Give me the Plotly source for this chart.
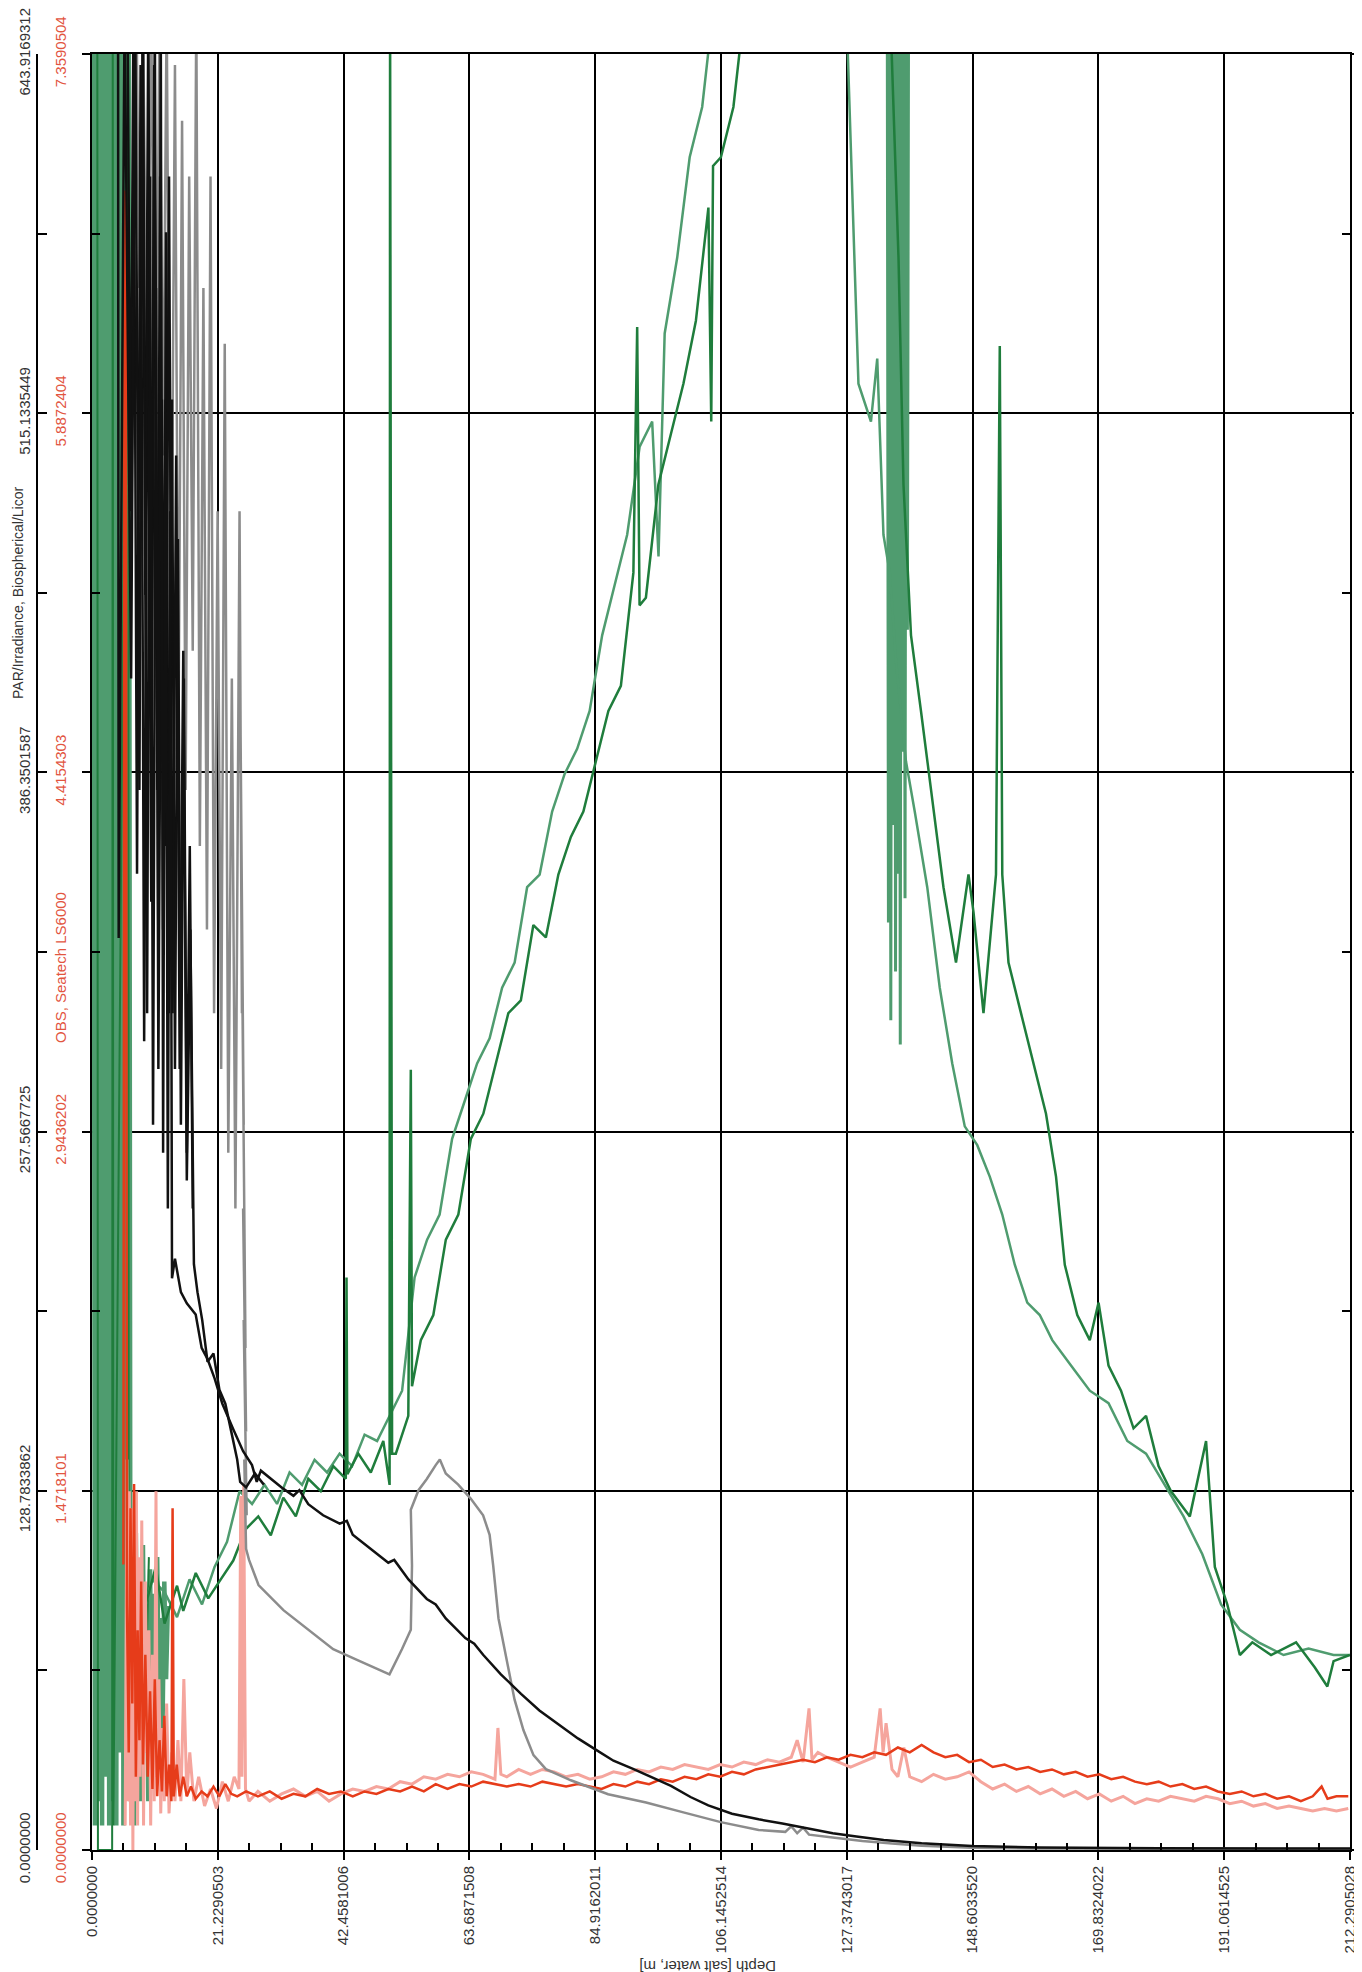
import plotly.graph_objects as go

# ---------------- axis ticks ----------------
depth_ticks = [0.0, 21.2290503, 42.4581006, 63.6871508, 84.9162011, 106.1452514,
               127.3743017, 148.6033520, 169.8324022, 191.0614525, 212.2905028]
depth_labels = ["0.0000000", "21.2290503", "42.4581006", "63.6871508", "84.9162011",
                "106.1452514", "127.3743017", "148.6033520", "169.8324022",
                "191.0614525", "212.2905028"]
par_ticks = [0.0, 128.7833862, 257.5667725, 386.3501587, 515.1335449, 643.9169312]
par_labels = ["0.0000000", "128.7833862", "257.5667725", "386.3501587", "515.1335449", "643.9169312"]
obs_ticks = [0.0, 1.4718101, 2.9436202, 4.4154303, 5.8872404, 7.3590504]
obs_labels = ["0.0000000", "1.4718101", "2.9436202", "4.4154303", "5.8872404", "7.3590504"]

# ---------------- data (depth m, value) ----------------
# Fluorescence-like green casts (hidden axis, same span as OBS)
green_surface = [(0.2, 7.6), (0.5, 0.1), (0.8, 7.6), (1.1, 0.2), (1.4, 7.6), (1.7, 0.1), (2.0, 7.6),
                 (2.3, 0.3), (2.6, 7.6), (2.9, 0.1), (3.2, 7.6), (3.5, 0.2), (3.8, 7.6), (4.1, 0.1),
                 (4.4, 7.6), (4.7, 0.4), (5.0, 7.6), (5.3, 0.1), (5.6, 7.6), (5.9, 0.6), (6.2, 7.6),
                 (6.5, 0.2), (6.8, 1.2), (7.1, 0.1), (7.4, 1.3), (7.7, 0.3), (8.0, 1.1), (8.3, 0.2),
                 (8.6, 1.25), (8.9, 0.4), (9.2, 1.0), (9.5, 0.2), (9.8, 1.15), (10.1, 0.5), (10.4, 1.05),
                 (10.7, 0.3), (11.0, 1.2), (11.3, 0.6), (11.6, 0.95), (11.9, 0.5), (12.2, 1.1),
                 (12.5, 0.7), (12.8, 1.0)]
green_surface_dark = [(0.9, 7.6), (1.0, 0.0), (3.4, 0.0), (3.5, 7.6), (3.6, 0.1), (6.1, 7.6),
                      (6.2, 0.9), (7.0, 1.2), (7.6, 0.2), (8.3, 1.1), (9.0, 0.6), (9.6, 1.2)]
green_dark_up = [(6.96, 1.109), (9.07, 1.006), (10.76, 1.160), (12.24, 0.928), (14.35, 1.083),
                 (15.40, 0.980), (17.51, 1.135), (19.62, 1.031), (21.73, 1.109), (23.84, 1.186),
                 (25.95, 1.315), (28.06, 1.367), (30.17, 1.289), (32.28, 1.444), (34.39, 1.367),
                 (36.50, 1.521), (38.61, 1.470), (40.72, 1.573), (42.83, 1.521), (42.95, 2.346),
                 (43.10, 1.540), (44.94, 1.624), (47.05, 1.547), (49.16, 1.676), (50.22, 1.496),
                 (50.30, 7.6), (50.64, 1.624), (51.27, 1.624), (53.38, 1.779), (53.80, 3.197),
                 (54.00, 1.900), (55.49, 2.089), (57.60, 2.192), (59.71, 2.501), (61.82, 2.604),
                 (63.93, 2.914), (66.04, 3.017), (68.15, 3.223), (70.26, 3.429), (72.37, 3.481),
                 (74.48, 3.790), (76.59, 3.739), (78.70, 3.997), (80.81, 4.151), (82.92, 4.255),
                 (85.03, 4.461), (87.14, 4.667), (89.25, 4.770), (91.36, 5.234), (92.00, 6.240),
                 (92.40, 5.100), (93.47, 5.131), (95.58, 5.595), (97.69, 5.802), (99.80, 6.008),
                 (101.91, 6.266), (104.02, 6.730), (104.50, 5.853), (104.80, 6.900), (106.13, 6.936),
                 (108.24, 7.142), (110.35, 7.6)]
green_mid_up = [(5.91, 1.057), (8.02, 0.902), (10.13, 1.109), (12.24, 1.057), (14.35, 0.954),
                (16.46, 1.109), (18.57, 1.006), (20.68, 1.160), (22.79, 1.263), (24.90, 1.470),
                (27.01, 1.418), (29.12, 1.496), (31.23, 1.418), (33.34, 1.547), (35.45, 1.496),
                (37.56, 1.599), (39.67, 1.547), (41.78, 1.624), (43.89, 1.573), (46.00, 1.702),
                (48.11, 1.676), (50.22, 1.779), (52.33, 1.882), (54.44, 2.346), (56.55, 2.501),
                (58.66, 2.604), (60.77, 2.914), (62.88, 3.068), (64.99, 3.223), (67.10, 3.326),
                (69.21, 3.533), (71.32, 3.636), (73.43, 3.945), (75.54, 3.997), (77.65, 4.255),
                (79.76, 4.409), (81.87, 4.512), (83.98, 4.667), (86.09, 4.977), (88.20, 5.183),
                (90.31, 5.389), (92.42, 5.750), (94.53, 5.853), (95.60, 5.300), (96.64, 6.214),
                (98.75, 6.524), (100.86, 6.936), (102.97, 7.142), (105.08, 7.6)]
green_mid_down = [(127.23, 7.6), (128.29, 6.781), (129.34, 6.008), (131.45, 5.853), (132.51, 6.111),
                  (133.56, 5.389), (134.62, 5.234), (135.67, 4.873), (137.36, 4.461), (138.84, 4.255),
                  (140.95, 3.945), (143.06, 3.533), (145.17, 3.223), (147.28, 2.965), (149.39, 2.888),
                  (151.50, 2.759), (153.61, 2.604), (155.72, 2.398), (157.83, 2.243), (159.94, 2.192),
                  (162.05, 2.089), (165.21, 1.985), (168.38, 1.882), (171.54, 1.831), (174.71, 1.676),
                  (177.87, 1.624), (181.04, 1.496), (184.20, 1.367), (187.37, 1.212), (190.53, 1.006),
                  (193.70, 0.902), (196.86, 0.851), (201.08, 0.799), (205.30, 0.825), (209.52, 0.799),
                  (212.27, 0.799)]
green_band = [(134.2, 7.6), (134.4, 3.8), (134.6, 7.6), (134.8, 3.4), (135.0, 7.6), (135.2, 4.2),
              (135.4, 7.6), (135.6, 3.6), (135.8, 7.6), (136.0, 4.0), (136.2, 7.6), (136.4, 3.3),
              (136.6, 7.6), (136.8, 4.5), (137.0, 7.6), (137.2, 3.9), (137.4, 7.6), (137.6, 5.0),
              (137.8, 7.6)]
green_dark_down = [(134.62, 7.6), (136.10, 6.524), (136.94, 5.595), (138.21, 4.977), (139.89, 4.667),
                   (142.00, 4.255), (143.69, 3.945), (145.80, 3.636), (147.91, 3.997), (148.76, 3.842),
                   (150.44, 3.429), (152.55, 3.997), (153.19, 6.163), (153.61, 3.997), (154.66, 3.636),
                   (156.77, 3.429), (158.88, 3.223), (160.99, 3.017), (162.68, 2.759), (164.16, 2.398),
                   (166.27, 2.192), (168.38, 2.089), (169.86, 2.243), (171.54, 1.985), (173.65, 1.882),
                   (175.76, 1.728), (177.87, 1.779), (179.98, 1.573), (182.09, 1.470), (185.26, 1.367),
                   (188.00, 1.676), (189.48, 1.160), (191.59, 1.006), (193.70, 0.799), (195.81, 0.851),
                   (198.97, 0.799), (203.19, 0.851), (206.36, 0.748), (208.47, 0.670), (209.52, 0.774),
                   (212.27, 0.799)]

# OBS, Seatech LS6000
obs_cast1 = [(5.3, 1.17), (5.5, 6.8), (5.7, 6.7), (5.9, 1.0), (6.2, 0.4), (6.5, 1.4), (6.8, 0.6),
             (7.1, 1.5), (7.4, 0.3), (7.7, 0.9), (8.0, 0.45), (8.3, 1.1), (8.6, 0.35), (9.0, 0.8),
             (9.4, 0.3), (9.8, 0.65), (10.2, 0.25), (10.6, 0.7), (11.0, 0.22), (11.4, 0.45),
             (11.8, 0.24), (12.2, 0.55), (12.6, 0.22), (13.0, 0.35), (13.4, 0.2), (13.6, 1.40),
             (13.8, 0.22), (14.3, 0.35), (14.8, 0.22), (15.4, 0.3), (16.0, 0.22), (16.7, 0.26),
             (17.5, 0.21), (18.5, 0.24), (19.5, 0.22), (20.5, 0.26), (21.5, 0.22), (22.5, 0.27),
             (23.5, 0.23), (24.5, 0.22), (26.0, 0.24), (28.0, 0.22), (30.0, 0.24), (32.0, 0.21),
             (34.0, 0.23), (36.0, 0.22), (38.0, 0.25), (40.0, 0.23), (42.0, 0.24), (44.0, 0.22),
             (46.0, 0.24), (48.0, 0.23), (50.0, 0.25), (52.0, 0.24), (54.0, 0.26), (56.0, 0.24),
             (58.0, 0.27), (60.0, 0.25), (62.0, 0.27), (64.0, 0.26), (66.0, 0.28), (68.0, 0.27),
             (70.0, 0.26), (72.0, 0.27), (74.0, 0.26), (76.0, 0.28), (78.0, 0.27), (80.0, 0.26),
             (82.0, 0.27), (84.0, 0.26), (86.0, 0.25), (88.0, 0.27), (90.0, 0.26), (92.0, 0.28),
             (94.0, 0.27), (96.0, 0.29), (98.0, 0.28), (100.0, 0.30), (102.0, 0.29), (104.0, 0.31),
             (106.0, 0.30), (108.0, 0.32), (110.0, 0.31), (112.0, 0.33), (114.0, 0.34), (116.0, 0.35),
             (118.0, 0.36), (120.0, 0.37), (122.0, 0.36), (124.0, 0.38), (126.0, 0.37), (128.0, 0.39),
             (130.0, 0.38), (132.0, 0.40), (134.0, 0.39), (136.0, 0.42), (138.0, 0.40), (140.0, 0.43),
             (142.0, 0.40), (144.0, 0.38), (146.0, 0.39), (148.0, 0.36), (150.0, 0.37), (152.0, 0.34),
             (154.0, 0.35), (156.0, 0.33), (158.0, 0.34), (160.0, 0.32), (162.0, 0.33), (164.0, 0.31),
             (166.0, 0.32), (168.0, 0.30), (170.0, 0.31), (172.0, 0.29), (174.0, 0.30), (176.0, 0.28),
             (178.0, 0.27), (180.0, 0.28), (182.0, 0.26), (184.0, 0.27), (186.0, 0.25), (188.0, 0.26),
             (190.0, 0.24), (192.0, 0.23), (194.0, 0.24), (196.0, 0.22), (198.0, 0.23), (200.0, 0.21),
             (202.0, 0.22), (204.0, 0.20), (206.0, 0.22), (207.5, 0.26), (208.5, 0.21), (210.0, 0.22),
             (212.0, 0.22)]
obs_cast2 = [(5.6, 0.1), (5.9, 1.6), (6.1, 0.2), (6.3, 1.47), (6.5, 0.1), (6.7, 1.4), (6.9, 0.0),
             (7.1, 1.3), (7.3, 0.2), (7.5, 1.47), (7.7, 0.1), (7.9, 1.2), (8.1, 0.3), (8.4, 1.35),
             (8.7, 0.1), (9.0, 1.1), (9.3, 0.4), (9.6, 0.9), (9.9, 0.1), (10.2, 0.8), (10.5, 0.2),
             (10.8, 1.47), (11.0, 0.3), (11.3, 0.7), (11.6, 0.15), (11.9, 0.5), (12.2, 0.2),
             (12.6, 0.6), (13.0, 0.15), (13.5, 0.4), (14.0, 0.2), (14.5, 0.45), (15.0, 0.2),
             (15.5, 0.7), (16.0, 0.22), (16.5, 0.4), (17.2, 0.2), (18.0, 0.3), (19.0, 0.18),
             (20.0, 0.25), (21.0, 0.17), (22.0, 0.28), (23.0, 0.2), (24.0, 0.3), (24.8, 0.25),
             (25.1, 1.45), (25.3, 0.3), (25.6, 1.5), (25.9, 0.25), (26.5, 0.2), (28.0, 0.24),
             (30.0, 0.2), (32.0, 0.23), (34.0, 0.25), (36.0, 0.22), (38.0, 0.24), (40.0, 0.2),
             (42.0, 0.23), (44.0, 0.25), (46.0, 0.24), (48.0, 0.26), (50.0, 0.25), (52.0, 0.28),
             (54.0, 0.27), (56.0, 0.3), (58.0, 0.29), (60.0, 0.31), (62.0, 0.3), (64.0, 0.32),
             (66.0, 0.31), (68.0, 0.29), (68.5, 0.5), (69.0, 0.31), (70.0, 0.3), (72.0, 0.33),
             (74.0, 0.31), (76.0, 0.33), (78.0, 0.32), (80.0, 0.3), (82.0, 0.31), (84.0, 0.29),
             (86.0, 0.3), (88.0, 0.32), (90.0, 0.31), (92.0, 0.33), (94.0, 0.32), (96.0, 0.34),
             (98.0, 0.33), (100.0, 0.35), (102.0, 0.34), (104.0, 0.33), (106.0, 0.35), (108.0, 0.34),
             (110.0, 0.36), (112.0, 0.35), (114.0, 0.37), (116.0, 0.36), (118.0, 0.38), (119.0, 0.45),
             (120.0, 0.36), (121.0, 0.58), (121.5, 0.37), (122.5, 0.40), (124.0, 0.38), (126.0, 0.36),
             (128.0, 0.34), (130.0, 0.36), (132.0, 0.38), (133.0, 0.58), (133.5, 0.40), (134.0, 0.52),
             (135.0, 0.33), (136.0, 0.30), (137.0, 0.42), (138.0, 0.30), (140.0, 0.28), (142.0, 0.31),
             (144.0, 0.29), (146.0, 0.30), (148.0, 0.32), (150.0, 0.28), (152.0, 0.25), (154.0, 0.27),
             (156.0, 0.24), (158.0, 0.26), (160.0, 0.23), (162.0, 0.25), (164.0, 0.22), (166.0, 0.24),
             (168.0, 0.21), (170.0, 0.23), (172.0, 0.20), (174.0, 0.22), (176.0, 0.19), (178.0, 0.21),
             (180.0, 0.20), (182.0, 0.22), (184.0, 0.21), (186.0, 0.20), (188.0, 0.22), (190.0, 0.21),
             (192.0, 0.19), (194.0, 0.20), (196.0, 0.18), (198.0, 0.19), (200.0, 0.17), (202.0, 0.18),
             (204.0, 0.17), (206.0, 0.16), (208.0, 0.17), (210.0, 0.16), (212.0, 0.17)]

# PAR/Irradiance
par_cast1 = [(4.4, 660), (4.5, 327), (5.5, 660), (6.6, 420), (7.3, 660), (8.0, 380), (8.6, 660),
             (9.3, 300), (9.8, 600), (10.3, 260), (10.8, 560), (11.2, 320), (11.6, 660), (12.0, 250),
             (12.4, 520), (12.8, 230), (13.2, 480), (13.5, 205), (14.0, 212), (15.0, 200), (16.0, 196),
             (17.5, 192), (18.5, 180), (19.5, 176), (20.7, 169), (22.0, 160), (23.8, 151), (25.5, 143),
             (27.0, 138), (27.8, 132), (28.5, 136), (30.2, 133), (32.0, 130), (34.0, 127), (35.0, 129),
             (36.5, 124), (39.0, 120), (41.8, 117), (43.0, 118), (44.0, 113), (47.1, 108), (50.0, 103),
             (51.0, 104), (53.4, 97), (56.5, 90), (58.0, 88), (59.7, 83), (63.0, 76), (64.5, 74),
             (66.0, 70), (69.0, 63), (72.4, 56), (75.5, 50), (78.7, 45), (82.0, 40), (85.0, 36),
             (88.0, 32), (91.4, 29), (94.5, 26), (97.7, 23), (101.0, 19), (104.0, 16), (108.0, 13),
             (112.5, 11), (116.5, 9.5), (120.9, 7.7), (125.0, 6.0), (129.0, 4.8), (133.6, 3.6),
             (140.0, 2.4), (148.5, 1.4), (160.0, 0.9), (180.0, 0.6), (212.29, 0.5)]
par_cast2 = [(6.0, 660), (6.5, 480), (7.0, 660), (7.6, 350), (8.2, 640), (8.8, 290), (9.4, 580),
             (10.0, 340), (10.6, 660), (11.2, 280), (11.8, 520), (12.4, 360), (13.0, 600), (13.6, 300),
             (14.2, 500), (14.8, 280), (15.4, 430), (16.0, 240), (16.6, 330), (17.2, 210), (17.8, 200),
             (18.6, 190), (19.5, 175), (20.5, 178), (21.5, 165), (22.5, 160), (23.5, 150), (24.5, 140),
             (25.0, 132), (26.0, 130), (27.5, 135), (29.0, 131)]
par_cast3 = [(8.5, 660), (9.0, 450), (9.5, 660), (10.0, 400), (10.5, 640), (11.0, 380), (11.5, 600),
             (12.0, 330), (12.5, 580), (13.0, 300), (13.5, 520), (14.0, 280), (14.5, 470), (15.0, 260),
             (15.5, 420), (16.0, 250), (16.5, 360), (17.0, 230)]
par_cast4 = [(7.5, 660), (8.0, 560), (8.6, 660), (9.3, 520), (10.0, 660), (10.7, 470), (11.4, 660),
             (12.0, 500), (12.6, 660), (13.3, 420), (14.0, 640), (14.6, 400), (15.2, 620), (15.8, 380),
             (16.4, 600), (17.0, 430), (17.6, 660), (18.2, 360), (18.8, 560), (19.4, 330), (20.0, 600),
             (20.6, 300), (21.2, 480), (21.8, 280), (22.4, 540), (23.0, 250), (23.6, 420), (24.2, 230),
             (24.9, 480), (25.3, 300), (25.0, 420), (25.6, 260), (25.2, 350), (25.8, 220), (25.4, 300),
             (25.9, 180), (25.5, 230), (26.0, 150), (25.6, 190), (26.1, 120), (25.7, 140), (26.0, 108),
             (26.5, 104), (28.1, 95), (32.3, 86), (36.5, 79), (40.7, 72), (44.9, 68), (50.2, 63),
             (52.3, 72), (53.8, 79), (54.0, 102), (53.8, 122), (55.1, 129), (56.5, 133), (58.0, 138),
             (58.7, 140), (59.7, 135), (61.8, 131), (63.9, 126), (66.0, 120), (67.1, 113), (67.7, 102),
             (68.6, 83), (70.3, 65), (71.3, 54), (72.8, 43), (74.5, 34), (76.6, 29), (80.8, 25),
             (87.1, 20), (93.5, 17), (99.8, 13.5), (106.1, 10), (112.5, 7.2), (117.0, 6.5), (118.0, 8.5),
             (119.0, 6.0), (120.0, 8.0), (121.0, 5.5), (125.0, 4.5), (130.0, 3.2), (135.0, 2.3),
             (140.0, 1.5), (148.5, 0.8), (160.0, 0.5), (212.29, 0.4)]

# ---------------- styling ----------------
W, H = 1362, 1972
ML, MR, MT, MB = 20, 20, 46, 130
plot_w = W - ML - MR
plot_h = H - MT - MB
PLOT_LEFT = 84
PAR_AXIS_X = 29
FONT = "Liberation Sans, Arial, Helvetica, sans-serif"
FS = 15
RED_TXT = "#e2553f"

C_GREEN_D = "#1f7d3c"
C_GREEN_M = "#4f9c6f"
C_RED = "#e63c1a"
C_PINK = "#f5a59d"
C_BLACK = "#111111"
C_GRAY = "#8c8c8c"


def unzip(pairs):
    return [p[0] for p in pairs], [p[1] for p in pairs]


fig = go.Figure()


def add(pairs, color, width, yaxis, name):
    x, y = unzip(pairs)
    fig.add_trace(go.Scatter(x=x, y=y, mode="lines", name=name, yaxis=yaxis,
                             line=dict(color=color, width=width), hoverinfo="skip"))


# green (base axis, drawn first)
add(green_surface, C_GREEN_M, 4.5, "y", "Fluorescence cast 2")
add(green_surface_dark, C_GREEN_D, 2.0, "y", "Fluorescence cast 1")
add(green_mid_up, C_GREEN_M, 2.5, "y", "Fluorescence cast 2 (down)")
add(green_dark_up, C_GREEN_D, 2.5, "y", "Fluorescence cast 1 (down)")
add(green_band, C_GREEN_M, 3.0, "y", "Fluorescence cast 2 (band)")
add(green_mid_down, C_GREEN_M, 2.5, "y", "Fluorescence cast 2 (up)")
add(green_dark_down, C_GREEN_D, 2.5, "y", "Fluorescence cast 1 (up)")
# OBS
add(obs_cast2, C_PINK, 3.0, "y2", "OBS cast 2")
add(obs_cast1, C_RED, 2.5, "y2", "OBS cast 1")
# PAR
add(par_cast4, C_GRAY, 2.5, "y3", "PAR cast 2")
add(par_cast3, C_BLACK, 2.5, "y3", "PAR cast 1b")
add(par_cast2, C_BLACK, 2.5, "y3", "PAR cast 1a")
add(par_cast1, C_BLACK, 2.5, "y3", "PAR cast 1")

x_dom0 = (PLOT_LEFT - ML) / plot_w

fig.update_layout(
    width=W, height=H,
    margin=dict(l=ML, r=MR, t=MT, b=MB, pad=0, autoexpand=False),
    paper_bgcolor="white", plot_bgcolor="white",
    showlegend=False,
    font=dict(family=FONT, size=FS, color="#333333"),
    xaxis=dict(
        domain=[x_dom0, 1], range=[0, 212.2905028], autorange=False, automargin=False,
        tickmode="array", tickvals=depth_ticks, ticktext=depth_labels, tickangle=-90,
        tickfont=dict(family=FONT, size=FS, color="#333333"), ticklabeloverflow="allow",
        showgrid=True, gridcolor="#000000", gridwidth=2,
        showline=True, linecolor="#000000", linewidth=2, mirror=True,
        ticks="outside", ticklen=8, tickwidth=2, tickcolor="#000000",
        minor=dict(tickmode="array",
                   tickvals=[t + k * 5.3072626 for t in depth_ticks[:-1] for k in (1, 2, 3)],
                   ticks="inside", ticklen=7, tickwidth=2, tickcolor="#000000", showgrid=False),
        zeroline=False, layer="above traces",
    ),
    yaxis=dict(  # hidden axis for green casts
        range=[0, 7.3590504], autorange=False, visible=False, showgrid=False, zeroline=False,
        anchor="x", automargin=False,
    ),
    yaxis2=dict(  # OBS
        overlaying="y", anchor="x", side="left", automargin=False,
        range=[0, 7.3590504], autorange=False,
        tickmode="array", tickvals=obs_ticks, ticktext=obs_labels, tickangle=-90,
        tickfont=dict(family=FONT, size=FS, color=RED_TXT), ticklabeloverflow="allow",
        ticklabelstandoff=10,
        showgrid=True, gridcolor="#000000", gridwidth=2,
        showline=True, linecolor="#000000", linewidth=2, mirror="allticks",
        ticks="outside", ticklen=8, tickwidth=2, tickcolor="#000000",
        minor=dict(tickmode="array",
                   tickvals=[0.7359050 + 1.4718101 * k for k in range(5)],
                   ticks="inside", ticklen=8, tickwidth=2, tickcolor="#000000", showgrid=False),
        zeroline=False, layer="above traces",
    ),
    yaxis3=dict(  # PAR
        overlaying="y", anchor="free", position=(PAR_AXIS_X - ML) / plot_w, side="left",
        range=[0, 643.9169312], autorange=False, automargin=False,
        tickmode="array", tickvals=par_ticks, ticktext=par_labels, tickangle=-90,
        tickfont=dict(family=FONT, size=FS, color="#333333"), ticklabeloverflow="allow",
        showgrid=False,
        showline=True, linecolor="#000000", linewidth=2,
        ticks="inside", ticklen=9, tickwidth=2, tickcolor="#000000",
        minor=dict(tickmode="array",
                   tickvals=[64.3916931 + 128.7833862 * k for k in range(5)],
                   ticks="inside", ticklen=9, tickwidth=2, tickcolor="#000000", showgrid=False),
        zeroline=False,
    ),
)


def px_to_paper_x(px):
    return (px - ML) / plot_w


def px_to_paper_y(py):
    return (H - MB - py) / plot_h


fig.add_annotation(text="PAR/Irradiance, Biospherical/Licor", textangle=-90,
                   xref="paper", yref="paper", x=px_to_paper_x(10), y=px_to_paper_y(585),
                   xanchor="center", yanchor="middle", showarrow=False,
                   font=dict(family=FONT, size=14, color="#333333"))
fig.add_annotation(text="OBS, Seatech LS6000", textangle=-90,
                   xref="paper", yref="paper", x=px_to_paper_x(52), y=px_to_paper_y(960),
                   xanchor="center", yanchor="middle", showarrow=False,
                   font=dict(family=FONT, size=FS, color=RED_TXT))
fig.add_annotation(text="Depth [salt water, m]", textangle=180,
                   xref="paper", yref="paper", x=px_to_paper_x(700), y=px_to_paper_y(1959),
                   xanchor="center", yanchor="middle", showarrow=False,
                   font=dict(family=FONT, size=FS, color="#333333"))

fig.write_html("out.html")
